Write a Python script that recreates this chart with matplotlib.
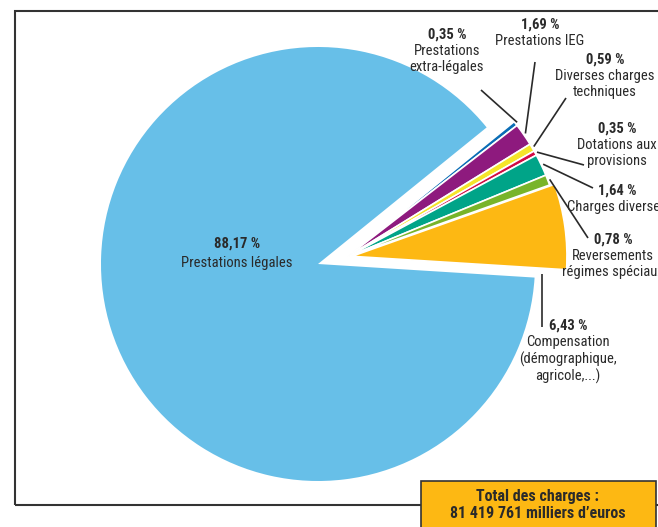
import numpy as np
import matplotlib
matplotlib.use("Agg")
from matplotlib import pyplot as plt
from matplotlib.patches import Rectangle

# Chart data (percent of total charges)
labels = ['Prestations\nextra-légales', 'Prestations IEG', 'Diverses charges\ntechniques',
          'Dotations aux\nprovisions', 'Charges diverses', 'Reversements\nrégimes spéciaux',
          'Compensation\n(démographique,\nagricole,...)', 'Prestations légales']
values = [0.35, 1.69, 0.59, 0.35, 1.64, 0.78, 6.43, 88.17]
colors = ['#0a6db5', '#8e1a7e', '#f5e52a', '#d20a43', '#00a488', '#78b42a', '#fdb813', '#67bfe8']
total_text = 'Total des charges :\n81 419 761 milliers d\u2019euros'

W, H = 658, 527
TXT = '#2a2a2a'
plt.rcParams['font.family'] = ['Liberation Sans Narrow', 'Roboto Condensed', 'Archivo Narrow',
                               'DejaVu Sans']

fig = plt.figure(figsize=(W / 100, H / 100), dpi=100)
ax = fig.add_axes([0, 0, 1, 1])

def Y(y):
    # pixel row from the top -> data y
    return H - y

start = 39
radius = 217
big_center = (318, Y(264))
small_center = (347, Y(257))

# big slice alone
big_cols = ['none'] * 7 + [colors[7]]
w_big, _ = ax.pie(values, colors=big_cols, startangle=start, counterclock=False,
                  radius=radius, center=big_center, frame=True,
                  wedgeprops=dict(linewidth=0))
# small slices moved out as one group
small_cols = colors[:7] + ['none']
explode = [0, 0, 0, 0, 0, 0, 5, 0]
w_small, _ = ax.pie(values, colors=small_cols, startangle=start, counterclock=False,
                    radius=radius - 2, center=small_center, explode=explode, frame=True,
                    wedgeprops=dict(edgecolor='white', linewidth=1.2))
w_small[-1].set_edgecolor('none')
ax.set_xlim(0, W)
ax.set_ylim(0, H)
ax.set_aspect('equal')
ax.axis('off')

# label anchors (pixels) and end of leader line
label_pos = [
    (447, 35, (481, 90)),
    (540, 25, (535, 62)),
    (605, 60, (566, 98)),
    (617, 129, (584, 165)),
    (617, 191, (593, 188)),
    (613, 240, (588, 238)),
    (568, 326, (542, 327)),
]

for i, (lx, ly, end) in enumerate(label_pos):
    w = w_small[i]
    cx, cy = w.center
    if i == 6:
        # compensation: vertical line hanging under the lower edge of the slice
        th = np.deg2rad(w.theta1)
        r = (end[0] - cx) / np.cos(th)
        sx = end[0]
        sy = cy + r * np.sin(th) - 6
    else:
        th = np.deg2rad((w.theta1 + w.theta2) / 2)
        sx = cx + (w.r + 2) * np.cos(th)
        sy = cy + (w.r + 2) * np.sin(th)
    ax.plot([sx, end[0]], [sy, Y(end[1])], color=TXT, lw=1.2, solid_capstyle='butt')
    pct = f'{values[i]:.2f}'.replace('.', ',') + ' %'
    ax.text(lx, Y(ly), pct, ha='center', va='center', fontsize=10.5,
            fontweight='bold', color=TXT)
    ax.text(lx, Y(ly + 9), labels[i], ha='center', va='top', fontsize=10.5,
            color=TXT, linespacing=1.2)

pct = f'{values[7]:.2f}'.replace('.', ',') + ' %'
ax.text(237, Y(244), pct, ha='center', va='center', fontsize=10.5, fontweight='bold', color=TXT)
ax.text(237, Y(263), labels[7], ha='center', va='center', fontsize=10.5, color=TXT)

# frame
ax.add_patch(Rectangle((15, Y(505)), 700, 505 - 10.5, fill=False, ec='#333333', lw=1.5,
                       clip_on=False))

# total box
ax.add_patch(Rectangle((421, Y(540)), 235, 540 - 481, fc='#fdb813', ec='#333333', lw=1.2,
                       zorder=5, clip_on=False))
ax.text(538, Y(505), total_text, ha='center', va='center', fontsize=11.5, fontweight='bold',
        color=TXT, linespacing=1.25, zorder=6)

fig.savefig('out.png', dpi=100)
